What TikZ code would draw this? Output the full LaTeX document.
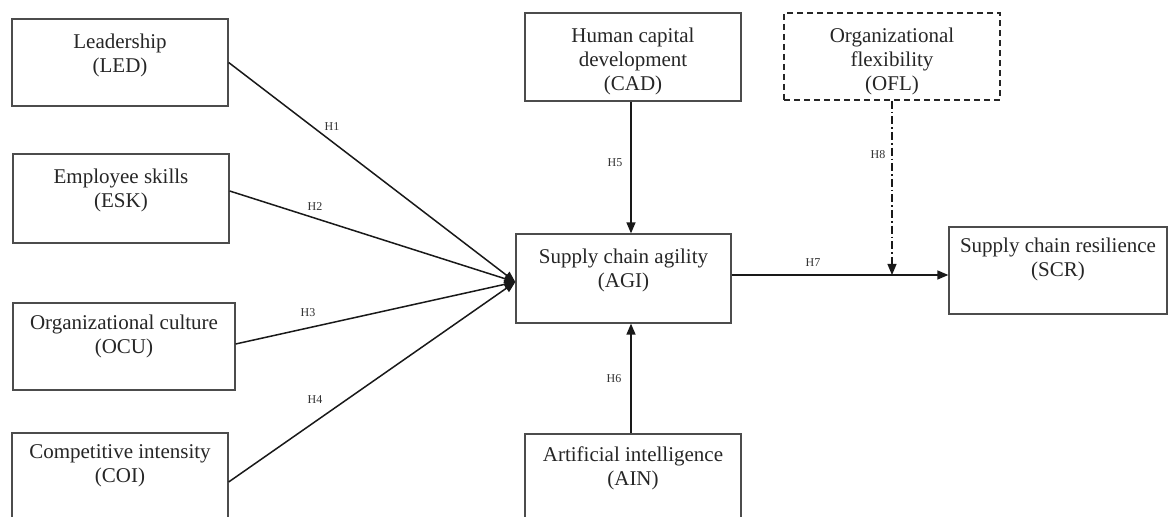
\documentclass[tikz,border=0pt]{standalone}
\usepackage{fontspec}
\setmainfont{Liberation Serif}
\usetikzlibrary{arrows.meta,calc}
\begin{document}
\begin{tikzpicture}[x=0.5pt,y=-0.5pt,
 box/.style={draw=black!70, line width=0.65pt, inner sep=0pt},
 txt/.style={anchor=north, inner sep=0pt, align=center, font=\fontsize{10.5}{12}\selectfont, yshift=-7.5pt, text=black!85},
 hl/.style={inner sep=0pt, font=\fontsize{6}{7}\selectfont, text=black!80},
 arr/.style={line width=0.75pt, draw=black!90, -{Triangle[length=5.5pt,width=4.5pt]}}]
\useasboundingbox (0,0) rectangle (1169,517);
\clip (0,0) rectangle (1169,517);
\fill[white] (0,0) rectangle (1169,517);
% boxes
\node[box, minimum width=108pt, minimum height=43.5pt] (led) at (120,62.5) {};
\node[box, minimum width=108pt, minimum height=44.5pt] (esk) at (121,198.5) {};
\node[box, minimum width=111pt, minimum height=43.5pt] (ocu) at (124,346.5) {};
\node[box, minimum width=108pt, minimum height=46pt] (coi) at (120,479) {};
\node[box, minimum width=108pt, minimum height=44pt] (cad) at (633,57) {};
\node[box, minimum width=107.5pt, minimum height=44.5pt] (agi) at (623.5,278.5) {};
\node[box, minimum width=108pt, minimum height=46pt] (ain) at (633,480) {};
\node[box, dash pattern=on 3pt off 2pt, line width=0.8pt, draw=black!85, minimum width=108pt, minimum height=43.5pt] (ofl) at (892,56.5) {};
\node[box, minimum width=109pt, minimum height=43.5pt] (scr) at (1058,270.5) {};
% texts
\node[txt] (ledt) at (led.north) {Leadership\\(LED)};
\node[txt] (eskt) at (esk.north) {Employee skills\\(ESK)};
\node[txt, yshift=1.5pt] (ocut) at (ocu.north) {Organizational culture\\(OCU)};
\node[txt, yshift=1.5pt] (coit) at (coi.north) {Competitive intensity\\(COI)};
\node[txt] (cadt) at (cad.north) {Human capital\\development\\(CAD)};
\node[txt] (agit) at (agi.north) {Supply chain agility\\(AGI)};
\node[txt, yshift=1pt] (aint) at (ain.north) {Artificial intelligence\\(AIN)};
\node[txt] (oflt) at (ofl.north) {Organizational\\flexibility\\(OFL)};
\node[txt, yshift=2pt] (scrt) at (scr.north) {Supply chain resilience\\(SCR)};
% connectors
\coordinate (conv) at ($(agi.west)+(0,3.5)$);
\coordinate (cs) at ($(cad.south)+(-2,0)$);
\coordinate (an) at ($(ain.north)+(-2,0)$);
\draw[arr] (led.east) -- (conv);
\draw[arr] ($(esk.east)+(0,-7.5)$) -- (conv);
\draw[arr] ($(ocu.east)+(0,-2.5)$) -- (conv);
\draw[arr] ($(coi.east)+(0,3)$) -- (conv);
\draw[arr] (cs) -- (cs |- agi.north);
\draw[arr] (an) -- (an |- agi.south);
\coordinate (m) at (892,275);
\draw[arr] (agi.east |- m) -- (scr.west |- m);
\draw[arr, line width=0.55pt, dash pattern=on 4pt off 1.5pt on 0.8pt off 1.5pt] (ofl.south) -- (m);
% labels
\node[hl] (h1) at (332,127) {H1};
\node[hl] (h2) at (315,207) {H2};
\node[hl] (h3) at (308,313) {H3};
\node[hl] (h4) at (315,400) {H4};
\node[hl] (h5) at (615,163) {H5};
\node[hl] (h6) at (614,379) {H6};
\node[hl] (h7) at (813,263) {H7};
\node[hl] (h8) at (878,155) {H8};
\end{tikzpicture}
\end{document}
